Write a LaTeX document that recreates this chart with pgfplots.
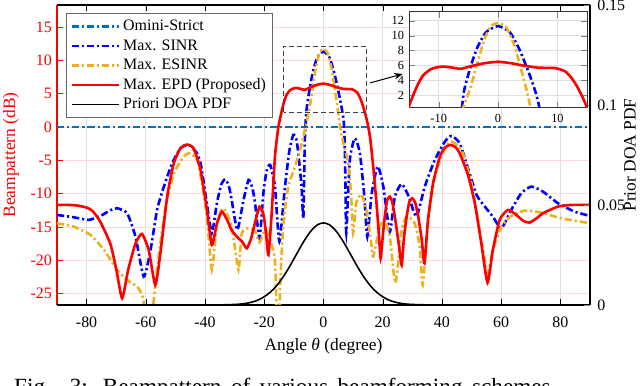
\documentclass[border=0pt]{standalone}
\usepackage{fontspec}
\setmainfont{Liberation Serif}
\usepackage{pgfplots}
\pgfplotsset{compat=1.18}
\usepackage{pgfplotstable}
\usetikzlibrary{arrows.meta}
\definecolor{omni}{rgb}{0,0.447,0.741}
\definecolor{esinr}{rgb}{0.929,0.694,0.125}

\pgfplotstableread{
x y
-90 -11.7
-86 -11.7
-83 -11.8
-80 -12.1
-78 -12.6
-75.4 -14.2
-72 -17.5
-70 -21.3
-68 -25.7
-66 -21.5
-63.5 -17.5
-61.3 -16.05
-59 -18.5
-56.8 -23.7
-55.1 -19
-52.8 -10.5
-50.6 -5.5
-48.3 -3.2
-46.2 -2.65
-44 -3.1
-41.6 -6.3
-39.5 -12
-37.7 -17.7
-36 -14.5
-34.3 -12.7
-32.5 -14
-31 -15.5
-29.3 -16.45
-27.5 -17.2
-25.9 -18.2
-24.5 -16.8
-23.6 -15.2
-21.6 -11.95
-20.2 -13.3
-19.4 -16
-18.6 -19.2
-17.5 -13
-16.4 -4.5
-15.3 -0.2
-14.4 1.8
-13.6 3.3
-12.6 4.7
-11.2 5.55
-9.5 5.85
-8 5.75
-6.3 5.55
-4.6 5.9
-2.3 6.3
0 6.5
2.2 6.3
4.5 5.95
6.8 5.7
9.6 5.65
11.3 5.2
12.4 4.3
13.3 3.2
14.2 1.8
15 0.3
15.8 -1.8
16.8 -6
17.9 -11.45
18.7 -16
19.3 -19.7
20 -16.5
20.7 -13.45
21.5 -11
22.4 -10.45
23.2 -11.2
24.1 -13.45
25.4 -17.5
26.4 -20.7
27.2 -16.5
28.1 -13.45
29 -11.2
30 -10.7
31 -11.4
32 -13.45
33.2 -17
34.1 -20.45
35.3 -13.95
37 -8.45
39.3 -4.45
41 -3.1
42.8 -2.7
44.5 -3.0
46 -3.95
48.8 -7.2
51.1 -11.45
53.3 -17.45
55.4 -23.35
57.2 -18.45
59.5 -13.95
62.3 -12.45
65.1 -13.2
67.5 -14.1
69.6 -14.35
72 -13.7
74.1 -12.95
79.2 -11.95
83.7 -11.7
90 -11.7
}\epdtab

\pgfplotstableread{
x y
-90 -13.2
-84.4 -13.55
-79.3 -13.95
-75.3 -13.35
-72 -12.5
-69.7 -12.2
-66.3 -12.95
-63.5 -16.45
-60.7 -22.45
-58.4 -18.45
-56.2 -12.45
-53.9 -8.95
-51.1 -5.45
-48.3 -3.2
-45.5 -2.7
-42.7 -3.95
-41.3 -5.9
-39.4 -11.45
-37.7 -15.95
-36 -11.45
-34.5 -8.6
-33.2 -7.85
-32 -8.8
-31 -10.95
-29.1 -15.45
-27 -10.95
-25.3 -7.95
-24 -9.2
-23.1 -11.45
-21.6 -16.7
-20.3 -9.95
-19.2 -6.6
-18 -5.7
-16.4 -8.95
-14.9 -17.2
-13.0 -8.95
-11.5 -3.5
-10.2 -1.2
-9.2 -1.8
-8.5 -3.95
-7.4 -8.95
-6.8 -13.7
-6.3 -2
-5.75 2.5
-4.6 5.9
-3.5 8.4
-2.05 10.45
0 11.3
2 10.45
3.6 8.15
5.1 5.2
6.2 2.7
7.0 0.0
7.4 -8
7.7 -15.9
8.9 -4.95
10.6 -1.7
12.3 -3.95
13.8 -10.45
14.8 -16.45
16.3 -9.95
18.3 -5.9
20.2 -8.95
22.4 -15.7
24.1 -10.45
26.4 -8.55
28.8 -10.45
31.4 -13.45
34.2 -8.95
37.6 -4.95
41 -2.2
43.2 -1.35
46 -2.45
48.8 -6.2
51.7 -10.2
54.5 -11.95
57.2 -13.45
60.1 -15.2
63.4 -12.45
66.8 -9.95
70.2 -8.95
74.1 -9.7
79.2 -11.45
84.8 -12.7
90 -13.35
}\sinrtab

\pgfplotstableread{
x y
-90 -14.45
-84.4 -14.95
-78.7 -16.2
-74.1 -18.45
-69.7 -21.45
-66.3 -22.95
-62.9 -23.95
-61.5 -25
-60.8 -26
-60 -30
-59 -40
-58 -30
-57 -24.45
-55.4 -18.45
-53.1 -11.45
-50.5 -6.95
-47.2 -4.45
-45.2 -3.95
-42.6 -4.95
-41.3 -7.8
-39.4 -13.45
-37.7 -21.45
-36 -14.45
-33.8 -12.2
-31 -14.95
-28.7 -21.45
-27.6 -15.95
-25.3 -15.2
-23.1 -15.7
-21.6 -17.3
-19.7 -15.4
-18 -17
-16.4 -20
-15.7 -30
-15.2 -40
-14.7 -25
-13.6 -14.95
-11.9 -8.95
-9.6 -5.95
-7.9 -3.45
-5.9 0.3
-4.6 3.15
-3.5 6.3
-2.3 9.5
-1.2 11.3
0 11.7
1.4 11.1
2.8 8.6
3.9 5.4
4.8 2.7
5.5 0.3
6.5 -2
7.5 -3.8
8.4 -5.5
9.3 -10
10 -15.9
11 -11.5
12.8 -10.1
14.5 -12.5
16 -17
16.8 -19.45
19 -14.95
20.7 -13.95
22.4 -16.45
24.3 -23.45
26.4 -15.45
28.1 -13.45
30.8 -14.45
32.5 -18
33.5 -23.7
35.4 -13.95
37.6 -7.45
41 -3.2
43.2 -2.2
46.6 -3.45
50 -8.45
53.3 -16.95
55.4 -21.95
57.2 -18.45
60.1 -14.95
63.4 -13.35
67.9 -12.55
73.5 -12.85
80.3 -13.7
90 -14.45
}\esinrtab

\pgfplotstableread{
x y
-90 0
-40 0
-35 0.00003
-30 0.00023
-28 0.00044
-26 0.00082
-24 0.00147
-22 0.0025
-20 0.0041
-18 0.0063
-16 0.0093
-14 0.0132
-12 0.0178
-10 0.0230
-8 0.0283
-6 0.0333
-4 0.0374
-2 0.0401
0 0.041
2 0.0401
4 0.0374
6 0.0333
8 0.0283
10 0.0230
12 0.0178
14 0.0132
16 0.0093
18 0.0063
20 0.0041
22 0.0025
24 0.00147
26 0.00082
28 0.00044
30 0.00023
35 0.00003
40 0
90 0
}\pdftab

\tikzset{mdashdot/.style={dash pattern=on 5pt off 2pt on 1.5pt off 2pt}}

\begin{document}
\begin{tikzpicture}
\useasboundingbox (-39.3pt,-55.9pt) rectangle (402.1pt,210.3pt);
\begin{axis}[
  at={(0pt,0pt)}, anchor=south west,
  scale only axis, width=367.6pt, height=206.9pt,
  xmin=-90, xmax=90, ymin=-26.7, ymax=18.3,
  xtick={-80,-60,...,80}, ytick={-25,-20,...,15},
  separate axis lines,
  y axis line style={red, line width=0.8pt},
  x axis line style={black, line width=0.8pt},
  ytick pos=left, xtick pos=both,
  tick align=inside,
  ytick style={red},
  xtick style={black},
  yticklabel style={red},
  xticklabel style={yshift=-5pt},
  tick label style={font=\fontsize{11}{13}\selectfont},
  /pgf/number format/assume math mode=true,
  ylabel={Beampattern (dB)},
  ylabel style={red, font=\fontsize{12}{14}\selectfont, at={(axis description cs:-0.0862,0.5)}, anchor=center},
  xlabel={Angle \textit{θ} (degree)},
  xlabel style={font=\fontsize{12}{14}\selectfont, at={(axis description cs:0.5,0)}, anchor=north, yshift=-19.5pt},
  grid=major,
  x grid style={gray!25, line width=0.5pt},
  y grid style={red!15, line width=0.5pt},
  legend style={at={(axis description cs:0.017,0.973)}, anchor=north west, draw=black!60, line width=0.8pt,
    font=\fontsize{11}{13}\selectfont, cells={anchor=west}, row sep=0.6pt, inner sep=2.5pt},
  legend image code/.code={\draw[#1] plot coordinates {(0cm,0cm) (1.15cm,0cm)};},
]
\addplot[omni, line width=1.8pt, mdashdot] coordinates {(-90,0) (90,0)};
\addlegendentry{Omini-Strict}
\addplot[blue, line width=1.8pt, mdashdot, smooth, tension=0.35] table[x=x,y=y] {\sinrtab};
\addlegendentry{Max. SINR}
\addplot[esinr, line width=1.8pt, mdashdot, smooth, tension=0.35] table[x=x,y=y] {\esinrtab};
\addlegendentry{Max. ESINR}
\addplot[red, line width=1.8pt, smooth, tension=0.35] table[x=x,y=y] {\epdtab};
\addlegendentry{Max. EPD (Proposed)}
\addlegendimage{black, line width=1.1pt}
\addlegendentry{Priori DOA PDF}
\draw[black!75, line width=0.8pt, dash pattern=on 3.5pt off 2pt] (axis cs:-13.5,2.2) rectangle (axis cs:14.5,12.1);
\draw[black, line width=0.7pt, -{Stealth[length=6pt,width=4.5pt]}] (axis cs:15.7,6.6) -- (axis cs:26.8,7.95);
\end{axis}
\begin{axis}[
  at={(0pt,0pt)}, anchor=south west,
  scale only axis, width=367.6pt, height=206.9pt,
  xmin=-90, xmax=90, ymin=0, ymax=0.15,
  axis y line*=right, axis x line=none,
  y axis line style={black, line width=0.8pt},
  ytick={0,0.05,0.1,0.15}, yticklabels={0,0.05,0.1,0.15},
  tick align=inside,
  yticklabel style={xshift=1.5pt},
  tick label style={font=\fontsize{11}{13}\selectfont},
  ylabel={Prior DOA PDF},
  ylabel style={font=\fontsize{12}{14}\selectfont, at={(axis description cs:1.075,0.5)}, anchor=center},
]
\addplot[black, line width=1.1pt, smooth] table[x=x,y=y] {\pdftab};
\end{axis}
\begin{axis}[
  at={(242.8pt,135.9pt)}, anchor=south west,
  scale only axis, width=122.8pt, height=66.2pt,
  xmin=-15, xmax=15, ymin=0.3, ymax=13.2,
  xtick={-10,0,10}, ytick={2,4,...,12},
  grid=major, grid style={gray!25, line width=0.5pt},
  tick align=inside,
  axis line style={black!80, line width=0.6pt},
  axis background/.style={fill=white},
  tick label style={font=\fontsize{8.5}{10}\selectfont},
  xticklabel style={yshift=-1pt},
  /pgf/number format/assume math mode=true,
]
\addplot[blue, line width=1.8pt, mdashdot, smooth, tension=0.35] table[x=x,y=y] {\sinrtab};
\addplot[esinr, line width=1.8pt, mdashdot, smooth, tension=0.35] table[x=x,y=y] {\esinrtab};
\addplot[red, line width=1.8pt, smooth, tension=0.35] table[x=x,y=y] {\epdtab};
\draw[omni, line width=0.7pt] (rel axis cs:1,0) -- (rel axis cs:1,1);
\end{axis}
\node[anchor=north west, inner sep=0pt, font=\fontsize{16}{19}\selectfont] at (-29.7pt,-50.2pt)
  {\makebox[370pt][s]{Fig. 3: Beampattern of various beamforming schemes}};
\end{tikzpicture}
\end{document}
